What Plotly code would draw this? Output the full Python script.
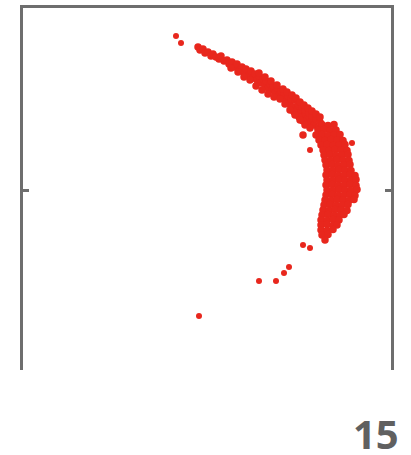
import plotly.graph_objects as go

# Main crescent: upper thin arm
top_x = [19.8,20.0,20.3,20.5,20.8,21.1,21.3,21.6,21.9,22.1,22.4,22.7,22.9,23.2,23.5,
         23.7,24.0,24.2,24.4,24.6,24.9,25.1,25.3,25.5,25.7,25.9,26.1,26.3,26.5,26.6,
         26.8,27.0,27.2,27.3,27.5,27.7,27.9,28.1,28.3,28.4,28.6,28.8,29.0,29.1,29.3,
         29.5,29.7,29.8,30.0,30.2,30.4,30.5,30.7,30.9,31.1,31.2,31.4,31.6,31.8,32.0]
top_y = [14.35,14.05,14.15,13.75,13.85,13.45,13.65,13.35,13.15,13.45,12.95,13.05,12.65,12.85,12.35,
         12.65,12.05,12.35,11.75,12.15,11.55,11.95,11.25,11.65,11.05,11.45,10.75,11.15,10.55,10.95,
         10.25,10.65,10.05,10.45,9.75,10.25,9.55,9.95,9.25,9.75,8.95,9.45,8.65,9.15,8.35,
         9.05,8.05,8.65,7.75,8.35,7.45,8.05,7.15,7.75,6.85,7.45,6.55,7.15,6.25,6.85]

# Extra points thickening the arm
fill_x = [28.3,28.7,29.2,29.6,30.0,30.4,30.8,31.2,31.6,32.0,29.4,29.9,30.3,30.7,30.3,
          26.2,25.6,26.8,27.4,25.0,24.4,23.8,23.1,25.9,26.5,27.1,27.7,
          28.5,29.0,29.5,30.0,30.5,31.0,28.0]
fill_y = [10.15,9.85,9.55,9.25,8.85,8.55,8.25,7.95,7.65,7.35,7.85,7.35,6.95,6.65,5.55,
          10.05,10.45,9.65,9.35,11.05,11.35,11.85,12.25,11.75,11.35,10.95,10.55,
          8.65,8.05,7.55,7.05,6.55,6.25,9.15]

# Dense right-hand bulge of the crescent
right_x = [32.2,32.8,33.4,
           31.8,32.4,33.0,33.6,
           31.6,32.2,32.8,33.4,34.0,
           31.9,32.5,33.1,33.7,34.3,
           32.1,32.7,33.3,33.9,34.5,
           32.3,32.9,33.5,34.1,34.7,
           32.4,33.0,33.6,34.2,34.8,
           32.5,33.1,33.7,34.3,34.9,
           32.6,33.2,33.8,34.4,35.0,
           32.7,33.3,33.9,34.5,35.1,
           32.6,33.2,33.8,34.4,35.0,35.5,
           32.7,33.3,33.9,34.5,35.1,35.6,
           32.6,33.2,33.8,34.4,35.0,35.6,
           32.7,33.3,33.9,34.5,35.1,35.7,
           32.6,33.2,33.8,34.4,35.0,35.5,
           32.5,33.1,33.7,34.3,34.9,35.4,
           32.4,33.0,33.6,34.2,34.8,
           32.3,32.9,33.5,34.1,34.7,
           32.2,32.8,33.4,34.0,34.4,
           32.1,32.7,33.3,33.9,
           32.1,32.7,33.3,33.7,
           32.1,32.7,33.3,
           32.2,32.8,
           32.5]
right_y = [6.60,6.50,6.60,
           6.05,6.10,6.00,6.05,
           5.55,5.60,5.50,5.55,5.60,
           5.05,5.00,5.10,5.05,5.00,
           4.55,4.60,4.50,4.55,4.60,
           4.05,4.00,4.10,4.05,4.00,
           3.55,3.60,3.50,3.55,3.60,
           3.05,3.00,3.10,3.05,3.00,
           2.55,2.60,2.50,2.55,2.60,
           2.05,2.00,2.10,2.05,2.00,
           1.55,1.60,1.50,1.55,1.60,1.50,
           1.05,1.00,1.10,1.05,1.00,1.10,
           0.55,0.60,0.50,0.55,0.60,0.50,
           0.05,0.00,0.10,0.05,0.00,0.10,
           -0.45,-0.40,-0.50,-0.45,-0.40,-0.50,
           -0.95,-1.00,-0.90,-0.95,-1.00,-0.90,
           -1.45,-1.40,-1.50,-1.45,-1.40,
           -1.95,-2.00,-1.90,-1.95,-2.00,
           -2.45,-2.40,-2.50,-2.45,-2.40,
           -2.95,-3.00,-2.90,-2.95,
           -3.45,-3.40,-3.50,-3.45,
           -3.95,-4.00,-3.90,
           -4.45,-4.40,
           -4.95]

# Scattered outliers
out_x = [17.6, 18.1, 31.0, 35.2, 30.3, 31.0, 28.9, 28.4, 27.6, 25.9, 19.9]
out_y = [15.45, 14.75, 4.05, 4.75, -5.45, -5.75, -7.65, -8.25, -9.05, -9.05, -12.55]

panel_label = "15"
y_tick = [0]

RED = "#E8271D"
AXIS = "#6E6E6E"

fig = go.Figure()
fig.add_trace(go.Scatter(
    x=top_x + fill_x + right_x, y=top_y + fill_y + right_y, mode="markers",
    marker=dict(size=7.5, color=RED, line=dict(width=0)),
    hoverinfo="skip", showlegend=False,
))
fig.add_trace(go.Scatter(
    x=out_x, y=out_y, mode="markers",
    marker=dict(size=6, color=RED, line=dict(width=0)),
    hoverinfo="skip", showlegend=False,
))

fig.update_layout(
    width=411, height=455,
    margin=dict(l=23, r=20, t=8, b=85),
    plot_bgcolor="white", paper_bgcolor="white",
    showlegend=False,
    annotations=[dict(
        text="<b>" + panel_label + "</b>",
        xref="paper", yref="paper", x=1.0, y=-0.174, xshift=10,
        xanchor="right", yanchor="middle", showarrow=False,
        height=42, valign="middle",
        font=dict(family="Open Sans", size=40, color="#606060"),
    )],
)
fig.update_xaxes(
    range=[2.3, 39.1], side="top", showline=True, linecolor=AXIS, linewidth=2.5,
    showgrid=False, zeroline=False, showticklabels=False, ticks="",
)
fig.update_yaxes(
    range=[-17.95, 18.25], showline=True, mirror="ticks", linecolor=AXIS, linewidth=2.5,
    ticks="inside", tickvals=y_tick, ticklen=6, tickwidth=2.5, tickcolor=AXIS,
    showticklabels=False, showgrid=False, zeroline=False,
)

fig.write_html("out.html")
